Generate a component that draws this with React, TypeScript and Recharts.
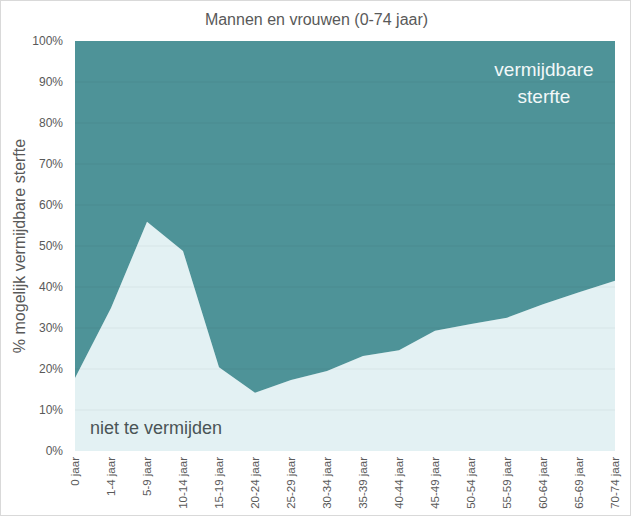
import React from 'react';
import { Area, ComposedChart, ReferenceLine, XAxis, YAxis } from 'recharts';

const leeftijden = [
  '0 jaar', '1-4 jaar', '5-9 jaar', '10-14 jaar', '15-19 jaar', '20-24 jaar', '25-29 jaar', '30-34 jaar',
  '35-39 jaar', '40-44 jaar', '45-49 jaar', '50-54 jaar', '55-59 jaar', '60-64 jaar', '65-69 jaar', '70-74 jaar'
];
const nietTeVermijden = [17.8, 34.9, 55.9, 48.8, 20.4, 14.2, 17.3, 19.5, 23.2, 24.6, 29.3, 31.0, 32.5, 35.8, 38.7, 41.5];
const vermijdbaar = [82.2, 65.1, 44.1, 51.2, 79.6, 85.8, 82.7, 80.5, 76.8, 75.4, 70.7, 69.0, 67.5, 64.2, 61.3, 58.5];
const yTicks = [0, 10, 20, 30, 40, 50, 60, 70, 80, 90, 100];
const gridLines = [10, 20, 30, 40, 50, 60, 70, 80, 90];

const data = leeftijden.map((leeftijd, i) => ({
  leeftijd,
  niet: nietTeVermijden[i],
  vermijdbaar: vermijdbaar[i]
}));

const font = '"Liberation Sans", Arial, sans-serif';
const grey = '#595959';

export default function App() {
  return (
    <div
      style={{
        position: 'absolute',
        left: 0,
        top: 0,
        width: 631,
        height: 516,
        background: '#fff',
        fontFamily: font,
        boxSizing: 'border-box',
        border: '1px solid #d9d9d9'
      }}
    >
      <div
        style={{
          position: 'absolute',
          top: 10,
          left: 0,
          width: 631,
          textAlign: 'center',
          fontSize: 16,
          color: grey
        }}
      >
        Mannen en vrouwen (0-74 jaar)
      </div>
      <ComposedChart
        width={629}
        height={514}
        data={data}
        margin={{ top: 40, right: 15, bottom: 4, left: 13 }}
        style={{ position: 'absolute', left: 0, top: 0 }}
      >
        <XAxis
          dataKey="leeftijd"
          interval={0}
          axisLine={false}
          tickLine={false}
          height={60}
          angle={-90}
          textAnchor="end"
          tick={{ fill: grey, fontSize: 11.5, fontFamily: font, dy: -2, dx: -4 }}
        />
        <YAxis
          type="number"
          domain={[0, 100]}
          ticks={yTicks}
          width={61}
          axisLine={false}
          tickLine={false}
          tickFormatter={(v) => `${v}%`}
          tick={{ fill: grey, fontSize: 12, fontFamily: font, dx: -4 }}
          label={{
            value: '% mogelijk vermijdbare sterfte',
            angle: -90,
            position: 'insideLeft',
            offset: 5,
            style: { fill: grey, fontSize: 16, fontFamily: font, textAnchor: 'middle' }
          }}
        />
        <Area
          type="linear"
          dataKey="niet"
          stackId="a"
          stroke="none"
          fill="#e3f1f3"
          fillOpacity={1}
          isAnimationActive={false}
        />
        <Area
          type="linear"
          dataKey="vermijdbaar"
          stackId="a"
          stroke="none"
          fill="#4e9398"
          fillOpacity={1}
          isAnimationActive={false}
        />
        {gridLines.map((g) => (
          <ReferenceLine key={g} y={g} stroke="rgba(0,0,0,0.05)" strokeWidth={1} />
        ))}
      </ComposedChart>
      <div
        style={{
          position: 'absolute',
          left: 463,
          top: 55,
          width: 160,
          textAlign: 'center',
          fontSize: 19,
          lineHeight: '27px',
          color: '#f2f8f8'
        }}
      >
        vermijdbare
        <br />
        sterfte
      </div>
      <div
        style={{
          position: 'absolute',
          left: 89,
          top: 417,
          fontSize: 18,
          color: '#4a5456'
        }}
      >
        niet te vermijden
      </div>
    </div>
  );
}
